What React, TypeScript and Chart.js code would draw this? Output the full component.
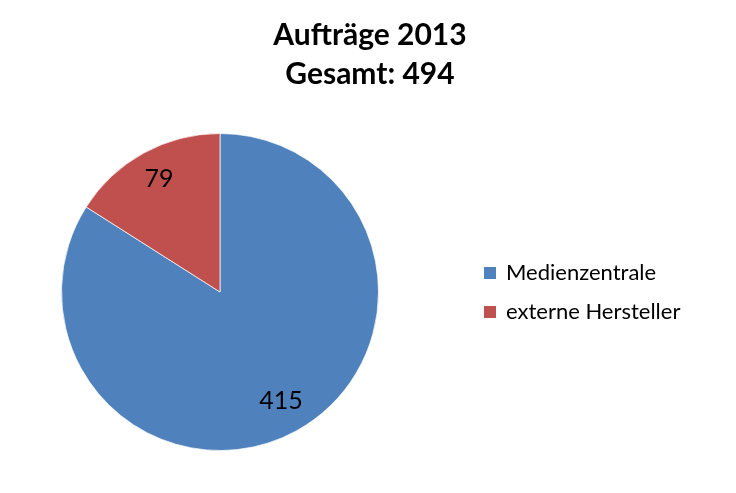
import React, { useEffect, useRef } from "react";
import { Chart, registerables } from "chart.js";

Chart.register(...registerables);

const titleLines = ["Aufträge 2013", "Gesamt: 494"];
const categories = ["Medienzentrale", "externe Hersteller"];
const values = [415, 79];
const colors = ["#4F81BD", "#C0504D"];

const FONT = "Lato, 'Open Sans', sans-serif";

const overlayPlugin = {
  id: "overlay",
  afterDraw(chart: any) {
    const ctx = chart.ctx as CanvasRenderingContext2D;
    ctx.save();
    // title
    ctx.fillStyle = "#000";
    ctx.textAlign = "center";
    ctx.textBaseline = "alphabetic";
    ctx.font = `bold 30px ${FONT}`;
    ctx.fillText(titleLines[0], 370, 45);
    ctx.fillText(titleLines[1], 370, 84);

    // data labels
    const meta = chart.getDatasetMeta(0);
    ctx.font = `25px ${FONT}`;
    ctx.textBaseline = "middle";
    meta.data.forEach((arc: any, i: number) => {
      const p = arc.getProps(["x", "y", "startAngle", "endAngle", "outerRadius"], true);
      const mid = (p.startAngle + p.endAngle) / 2;
      const r = p.outerRadius * 0.8;
      ctx.fillText(String(values[i]), p.x + Math.cos(mid) * r, p.y + Math.sin(mid) * r - 2);
    });

    // legend
    ctx.textAlign = "left";
    ctx.font = `22px ${FONT}`;
    const lx = 484;
    const ys = [273, 312];
    categories.forEach((c, i) => {
      ctx.fillStyle = colors[i];
      ctx.fillRect(lx, ys[i] - 6, 12, 12);
      ctx.fillStyle = "#000";
      ctx.fillText(c, lx + 22, ys[i]);
    });
    ctx.restore();
  },
};

export default function App() {
  const ref = useRef<HTMLCanvasElement>(null);
  useEffect(() => {
    if (!ref.current) return;
    const chart = new Chart(ref.current, {
      type: "pie",
      data: {
        labels: categories,
        datasets: [
          {
            data: values,
            backgroundColor: colors,
            borderColor: "rgba(255,255,255,0.7)",
            borderWidth: 1,
          },
        ],
      },
      options: {
        animation: false,
        responsive: false,
        maintainAspectRatio: false,
        layout: { padding: { left: 61, right: 357, top: 133, bottom: 42 } },
        plugins: {
          legend: { display: false },
          title: { display: false },
          tooltip: { enabled: false },
        },
      },
      plugins: [overlayPlugin],
    });
    return () => chart.destroy();
  }, []);
  return (
    <div style={{ position: "fixed", left: 0, top: 0, width: 736, height: 493, background: "#fff" }}>
      <canvas ref={ref} width={736} height={493} style={{ width: 736, height: 493 }} />
    </div>
  );
}
